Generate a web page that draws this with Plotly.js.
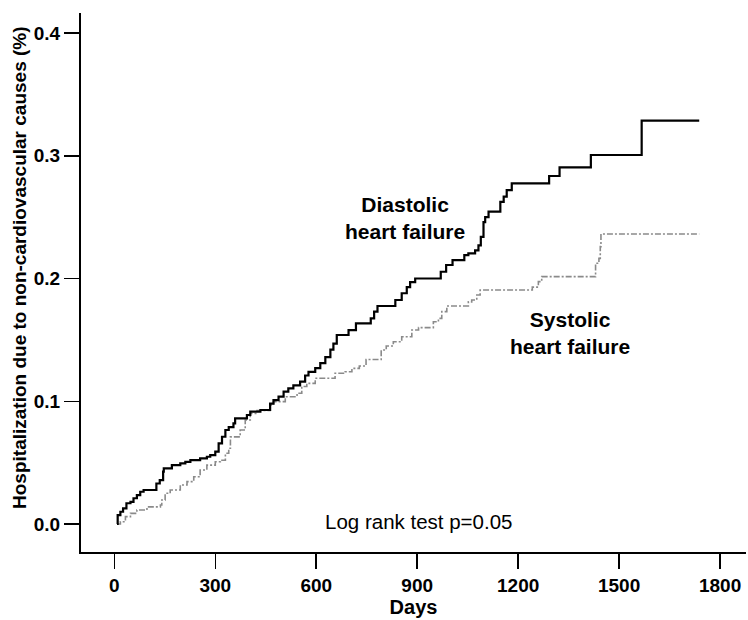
<!DOCTYPE html>
<html>
<head>
<meta charset="utf-8">
<script src="https://cdn.plot.ly/plotly-3.0.1.min.js"></script>
<style>html,body{margin:0;padding:0;background:#fff;}#chart{width:748px;height:620px;}</style>
</head>
<body>
<div id="chart"></div>
<script>
// Diastolic heart failure (solid black), step curve
const diastolicDays = [8, 10, 18, 26, 36, 48, 57, 67, 77, 87, 125, 135, 145, 147, 171, 196, 211, 226, 255, 275, 285, 300, 310, 320, 330, 340, 354, 359, 394, 404, 434, 463, 473, 488, 503, 517, 532, 552, 567, 577, 597, 612, 627, 642, 651, 661, 696, 718, 762, 772, 782, 835, 854, 869, 879, 894, 970, 986, 1005, 1040, 1052, 1072, 1082, 1089, 1097, 1102, 1112, 1147, 1157, 1166, 1181, 1292, 1323, 1416, 1567, 1738];
const diastolicVals = [0, 0.0073, 0.010, 0.0128, 0.0169, 0.018, 0.021, 0.0236, 0.0263, 0.0277, 0.033, 0.0358, 0.0426, 0.0453, 0.048, 0.0494, 0.0507, 0.0521, 0.0535, 0.0548, 0.0562, 0.0589, 0.0657, 0.0711, 0.0766, 0.079, 0.082, 0.086, 0.0888, 0.0915, 0.0929, 0.098, 0.101, 0.1037, 0.1078, 0.1105, 0.113, 0.116, 0.121, 0.124, 0.127, 0.131, 0.136, 0.142, 0.147, 0.154, 0.158, 0.1635, 0.1675, 0.173, 0.1776, 0.1825, 0.188, 0.193, 0.197, 0.200, 0.2055, 0.211, 0.215, 0.219, 0.2205, 0.223, 0.227, 0.234, 0.246, 0.250, 0.2545, 0.2625, 0.2667, 0.272, 0.2775, 0.2835, 0.2906, 0.3006, 0.3286, 0.3286];

// Systolic heart failure (grey dash-dot), step curve
const systolicDays = [8, 18, 33, 48, 67, 97, 137, 141, 151, 166, 196, 216, 236, 255, 275, 300, 315, 330, 340, 345, 374, 389, 404, 424, 463, 473, 508, 543, 557, 572, 597, 656, 686, 706, 728, 748, 793, 808, 829, 854, 884, 904, 948, 963, 973, 988, 1052, 1062, 1077, 1087, 1242, 1260, 1270, 1430, 1440, 1444, 1446, 1738];
const systolicVals = [0, 0.0019, 0.006, 0.0087, 0.0114, 0.014, 0.0155, 0.0196, 0.025, 0.0277, 0.0318, 0.0345, 0.0385, 0.044, 0.048, 0.0507, 0.052, 0.0576, 0.0617, 0.071, 0.0766, 0.0847, 0.09, 0.0925, 0.097, 0.0997, 0.1037, 0.1065, 0.112, 0.1146, 0.1187, 0.1228, 0.124, 0.1268, 0.1287, 0.134, 0.1417, 0.145, 0.1485, 0.1526, 0.158, 0.160, 0.1648, 0.1675, 0.173, 0.1776, 0.181, 0.1825, 0.1866, 0.1906, 0.193, 0.1975, 0.2015, 0.2124, 0.2164, 0.226, 0.2363, 0.2363];

const xTicks = [0, 300, 600, 900, 1200, 1500, 1800];
const yTicks = [0.0, 0.1, 0.2, 0.3, 0.4];

const sans = 'Liberation Sans, Arial, sans-serif';

const traces = [
  {x: systolicDays, y: systolicVals, type: 'scatter', mode: 'lines',
   line: {shape: 'hv', color: '#8a8a8a', width: 1.6, dash: '6px,2px,2px,2px'}, showlegend: false, hoverinfo: 'skip'},
  {x: diastolicDays, y: diastolicVals, type: 'scatter', mode: 'lines',
   line: {shape: 'hv', color: '#000', width: 2.2}, showlegend: false, hoverinfo: 'skip'}
];

const layout = {
  width: 748, height: 620,
  margin: {l: 81, r: 2, t: 13, b: 68},
  paper_bgcolor: '#fff', plot_bgcolor: '#fff',
  showlegend: false,
  xaxis: {
    range: [-99, 1877], tickvals: xTicks, ticktext: xTicks.map(String),
    ticks: 'outside', ticklen: 15, tickwidth: 1.5, tickcolor: '#000',
    showline: true, linecolor: '#000', linewidth: 2, showgrid: false, zeroline: false,
    tickfont: {family: sans, size: 19, color: '#000', weight: 'bold'},
    title: {text: 'Days', font: {family: sans, size: 20, color: '#000', weight: 'bold'}, standoff: 4}
  },
  yaxis: {
    range: [-0.0228, 0.4163], tickvals: yTicks, ticktext: yTicks.map(v => v.toFixed(1)),
    ticks: 'outside', ticklen: 15, tickwidth: 1.5, tickcolor: '#000',
    showline: true, linecolor: '#000', linewidth: 2, showgrid: false, zeroline: false,
    tickfont: {family: sans, size: 19, color: '#000', weight: 'bold'}
  },
  annotations: [
    {x: -0.0917, y: 0.527, xref: 'paper', yref: 'paper', text: 'Hospitalization due to non-cardiovascular causes (%)',
     textangle: -90, showarrow: false, xanchor: 'center', yanchor: 'middle',
     font: {family: sans, size: 19, color: '#000', weight: 'bold'}},
    {x: 864, y: 0.249, xref: 'x', yref: 'y', text: 'Diastolic<br>heart failure', showarrow: false,
     font: {family: sans, size: 21, color: '#000', weight: 'bold'}, align: 'center'},
    {x: 1354, y: 0.156, xref: 'x', yref: 'y', text: 'Systolic<br>heart failure', showarrow: false,
     font: {family: sans, size: 21, color: '#000', weight: 'bold'}, align: 'center'},
    {x: 903, y: 0.0024, xref: 'x', yref: 'y', text: 'Log rank test p=0.05', showarrow: false,
     font: {family: sans, size: 20.5, color: '#000'}, align: 'center'}
  ]
};

Plotly.newPlot('chart', traces, layout, {displayModeBar: false, staticPlot: true});
</script>
</body>
</html>
